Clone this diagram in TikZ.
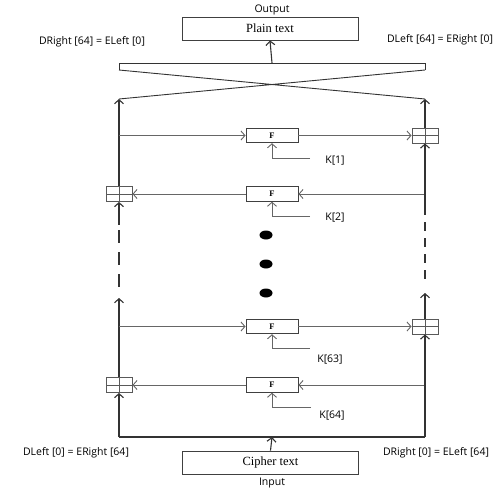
\documentclass[tikz,border=0pt]{standalone}
\usepackage{fontspec}
\setmainfont{Liberation Serif}
\newfontfamily\lblfont{Open Sans}
\usetikzlibrary{arrows.meta}
\begin{document}
\begin{tikzpicture}[x=1pt,y=-1pt,
  tip/.style={-{Straight Barb[length=4pt,width=9pt]}},
  vline/.style={draw=black!80,line width=1.1pt},
  hline/.style={draw=black!60,line width=0.9pt},
  fbox/.style={draw=black!75,line width=0.9pt,minimum width=52pt,minimum height=14.5pt,inner sep=0pt,font=\bfseries\fontsize{8.5}{9}\selectfont},
  xbox/.style={draw=black!65,line width=0.9pt,minimum width=26pt,minimum height=15pt,inner sep=0pt,
    path picture={\draw[black!65,line width=0.8pt] (path picture bounding box.north) -- (path picture bounding box.south)
      (path picture bounding box.west) -- (path picture bounding box.east);}},
  tbox/.style={draw=black!75,line width=0.9pt,minimum width=176pt,minimum height=23pt,inner sep=0pt,font=\fontsize{12.5}{14}\selectfont},
  lbl/.style={font=\lblfont\fontsize{10.5}{12}\selectfont,inner sep=0pt},
  dot/.style={fill=black,draw=none}]
\useasboundingbox (0,0) rectangle (500,491);
% boxes
\node[tbox] (plain) at (270,28.5) {Plain text};
\node[tbox] (cipher) at (270.5,462.5) {Cipher text};
\node[lbl] (out) at (272,10) {Output};
\node[lbl] (in) at (272,483) {Input};
\node[lbl] (l1) at (92,42) {DRight [64] = ELeft [0]};
\node[lbl] (l2) at (440,40) {DLeft [64] = ERight [0]};
\node[lbl] (l3) at (76,453) {DLeft [0] = ERight [64]};
\node[lbl] (l4) at (436,453) {DRight [0] = ELeft [64]};
\node[fbox] (F1) at (272,135.5) {F};
\node[xbox] (X1) at (425,135.5) {};
\node[fbox] (F2) at (272,194) {F};
\node[xbox] (X2) at (119,194) {};
\node[fbox] (F3) at (272,326.5) {F};
\node[xbox] (X3) at (425,326.5) {};
\node[fbox] (F4) at (272,385) {F};
\node[xbox] (X4) at (119,385) {};
\node[lbl] (k1) at (335,161) {K[1]};
\node[lbl] (k2) at (335,218) {K[2]};
\node[lbl] (k63) at (330,360) {K[63]};
\node[lbl] (k64) at (332,416) {K[64]};
% coordinates
\coordinate (tl) at (119,63);
\coordinate (tr) at (425,63);
\coordinate (tm) at (272,63);
\coordinate (ml) at (119,70);
\coordinate (mr) at (425,70);
\coordinate (cl) at (119,99);
\coordinate (cr) at (425,99);
\coordinate (bl) at (119,437);
\coordinate (br) at (425,437);
\coordinate (bm) at (272,437);
% cross
\draw[vline,line width=0.9pt] (ml) -- (tl) -- (tr) -- (mr);
\draw[vline,line width=0.9pt] (ml) -- (cr) (mr) -- (cl);
\draw[vline,tip] (tm) -- (plain.south);
% verticals top
\draw[vline,tip] (X2.north) -- (cl);
\draw[vline,tip] (X1.north) -- (cr);
% row 1
\coordinate (r1l) at (119,135.5);
\draw[hline,tip] (r1l) -- (F1.west);
\draw[hline,tip] (F1.east) -- (X1.west);
% row 2
\coordinate (r2r) at (425,194);
\draw[vline,tip] (r2r) -- (X1.south);
\draw[hline,tip] (r2r) -- (F2.east);
\draw[hline,tip] (F2.west) -- (X2.east);
% dashed middle
\coordinate (ls1) at (119,225);
\coordinate (ld1) at (119,230);
\coordinate (ld2) at (119,291);
\coordinate (la) at (119,298);
\draw[vline,{Straight Barb[length=4pt,width=9pt]}-] (X2.south) -- (ls1);
\draw[vline,dash pattern=on 13pt off 9pt] (ld1) -- (ld2);
\draw[vline,tip] (X4.north) -- (la);
\coordinate (rs1) at (425,215);
\coordinate (rd1) at (425,222);
\coordinate (rd2) at (425,283);
\coordinate (ra) at (425,293);
\draw[vline] (r2r) -- (rs1);
\draw[vline,dash pattern=on 9pt off 7pt] (rd1) -- (rd2);
\draw[vline,tip] (X3.north) -- (ra);
% dots
\fill[dot] (266,235) ellipse (6.5 and 4.5);
\fill[dot] (266,264) ellipse (6.5 and 4.5);
\fill[dot] (266,293) ellipse (6.5 and 4.5);
% row 3
\coordinate (r3l) at (119,326.5);
\draw[hline,tip] (r3l) -- (F3.west);
\draw[hline,tip] (F3.east) -- (X3.west);
% row 4
\coordinate (r4r) at (425,385);
\draw[hline,tip] (r4r) -- (F4.east);
\draw[hline,tip] (F4.west) -- (X4.east);
% keys
\coordinate (k1e) at (310,158);
\coordinate (k2e) at (310,216);
\coordinate (k63e) at (310,348);
\coordinate (k64e) at (311,407);
\draw[hline,tip] (k1e) -| (F1.south);
\draw[hline,tip] (k2e) -| (F2.south);
\draw[hline,tip] (k63e) -| (F3.south);
\draw[hline,tip] (k64e) -| (F4.south);
% bottom
\draw[vline] (bl) -- (br);
\draw[vline,tip] (bl) -- (X4.south);
\draw[vline,tip] (br) -- (X3.south);
\draw[vline,tip] (cipher.north) -- (bm);
\end{tikzpicture}
\end{document}
